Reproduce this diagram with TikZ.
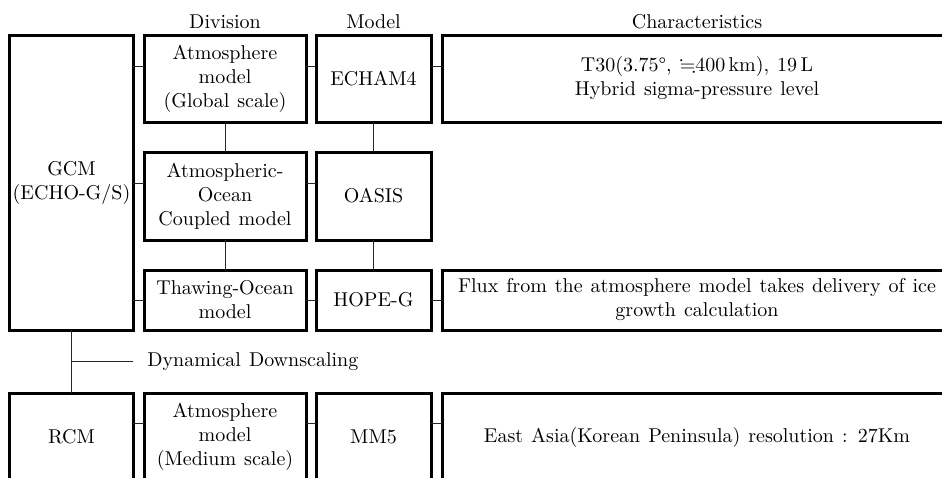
\documentclass[tikz,border=0pt]{standalone}
\usepackage{amssymb}
\usepackage{fontspec}
\setmainfont{Latin Modern Roman}[WordSpace=1.2]
\usepackage{tikz}
\usetikzlibrary{positioning, calc}

\begin{document}
\begin{tikzpicture}[
    node distance=15pt and 5pt,
    cell/.style={rectangle, draw=black, line width=1.5pt, outer sep=0pt, inner sep=2pt, align=center, font=\fontsize{10}{12}\selectfont},
    head/.style={inner sep=3pt, font=\fontsize{10}{12}\selectfont},
    link/.style={line width=0.5pt, color=black!85},
]
    \useasboundingbox (-5pt,17.5pt) rectangle (466pt,-221pt);

    % GCM block
    \node[cell, inner xsep=0pt, minimum width=61.5pt, minimum height=147.5pt, anchor=north west] (gcm) at (0,0) {GCM\\(ECHO-G/S)};
    \node[cell, minimum width=81pt, minimum height=43.5pt, right=5.5pt of gcm.north east, anchor=north west] (atm) {Atmosphere\\model\\(Global scale)};
    \node[cell, minimum width=57.5pt, minimum height=43.5pt, right=of atm] (echam) {ECHAM4};
    \node[cell, minimum width=255pt, minimum height=43.5pt, right=5.5pt of echam] (chatm) {T30(3.75°, $\fallingdotseq$400\,km), 19\,L\\Hybrid sigma-pressure level};
    \node[cell, minimum width=81pt, minimum height=44pt, below=of atm] (aoc) {Atmospheric-\\Ocean\\Coupled model};
    \node[cell, minimum width=57.5pt, minimum height=44pt, below=of echam] (oasis) {OASIS};
    \node[cell, minimum width=81pt, minimum height=30pt, below=of aoc] (thaw) {Thawing-Ocean\\model};
    \node[cell, minimum width=57.5pt, minimum height=30pt, below=of oasis] (hope) {HOPE-G};
    \node[cell, minimum width=255pt, minimum height=30pt, right=5.5pt of hope] (chflux) {Flux from the atmosphere model takes delivery of ice\\growth calculation};

    % RCM block
    \node[cell, minimum width=61.5pt, minimum height=44pt, below=31.5pt of gcm] (rcm) {RCM};
    \node[cell, minimum width=81pt, minimum height=44pt, right=5.5pt of rcm] (atmmed) {Atmosphere\\model\\(Medium scale)};
    \node[cell, minimum width=57.5pt, minimum height=44pt, right=of atmmed] (mmfive) {MM5};
    \node[cell, minimum width=255pt, minimum height=44pt, right=5.5pt of mmfive] (chrcm) {East Asia(Korean Peninsula) resolution : 27Km};

    % column headings
    \node[head, above=0pt of atm] (hdiv) {Division};
    \node[head, above=0pt of echam] (hmod) {Model};
    \node[head, above=0pt of chatm] (hchar) {Characteristics};

    % connectors
    \foreach \a/\b/\dy in {gcm/atm/6.25, atm/echam/6.25, echam/chatm/6.25, gcm/aoc/6.5, aoc/oasis/6.5, gcm/thaw/0, thaw/hope/0, hope/chflux/0, rcm/atmmed/7, atmmed/mmfive/7, mmfive/chrcm/7}
        \draw[link] ($(\a.east |- \b.west)+(0,\dy pt)$) -- ($(\b.west)+(0,\dy pt)$);
    \foreach \a/\b in {atm/aoc, aoc/thaw, echam/oasis, oasis/hope, gcm/rcm}
        \draw[link] (\a.south) -- (\b.north);

    \coordinate (dmid) at ($(gcm.south)!0.5!(rcm.north)$);
    \node[head, anchor=west, inner sep=7pt] (dds) at ($(dmid)+(30.75pt,0)$) {Dynamical Downscaling};
    \draw[link] (dmid) -- (dds.west);
\end{tikzpicture}
\end{document}
